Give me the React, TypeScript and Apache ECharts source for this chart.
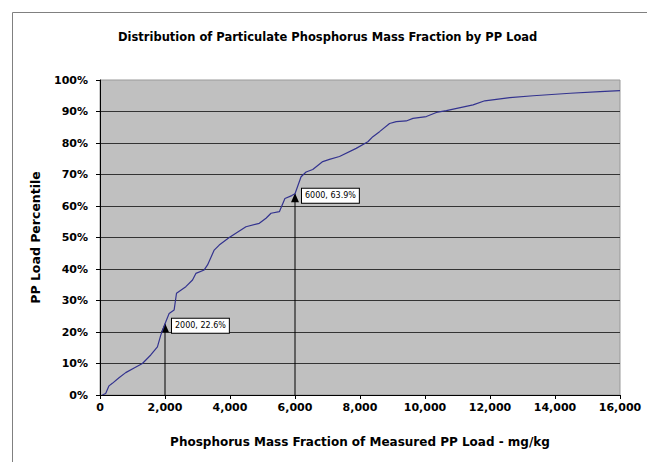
import React, { useEffect, useRef } from "react";
import * as echarts from "echarts";

// Phosphorus mass fraction (mg/kg) vs cumulative percentile of PP load
const loadX = [72, 175, 277, 380, 585, 791, 1050, 1305, 1562, 1767, 1870, 2000, 2127, 2281, 2354, 2641, 2847, 2950, 3206, 3309, 3514, 3668, 3977, 4491, 4902, 5108, 5262, 5519, 5690, 5900, 6000, 6187, 6341, 6546, 6854, 7060, 7368, 7882, 8242, 8396, 8602, 8910, 9116, 9424, 9630, 10041, 10349, 10657, 11479, 11839, 12610, 13329, 14470, 15383, 16000];
const percentile = [0, 0.5, 2.9, 3.7, 5.5, 7.1, 8.6, 10, 12.7, 15.3, 19, 22.6, 25.9, 27, 32.3, 34.4, 36.5, 38.6, 39.7, 41.3, 46, 47.6, 50, 53.4, 54.5, 56.1, 57.7, 58.2, 62.4, 63.3, 63.9, 69.3, 70.8, 71.6, 74.1, 74.8, 75.7, 78.3, 80.4, 82, 83.6, 86.2, 86.8, 87, 87.8, 88.4, 89.7, 90.3, 92.1, 93.4, 94.4, 95, 95.8, 96.3, 96.6];

const markerX = [2000, 6000];
const markerY = [22.6, 63.9];
const markerLabels = ["2000, 22.6%", "6000, 63.9%"];

const FONT = "DejaVu Sans";

export default function App() {
  const ref = useRef<HTMLDivElement>(null);
  useEffect(() => {
    document.body.style.margin = "0";
    const chart = echarts.init(ref.current!, null, { renderer: "svg" });
    const curve = loadX.map((x, i) => [x, percentile[i]]);
    const markerSeries = markerX.map((mx, i) => ({
      type: "line",
      silent: true,
      symbol: "none",
      showSymbol: true,
      z: 1,
      lineStyle: { color: "#000", width: 1 },
      itemStyle: { color: "#000" },
      data: [
        { value: [mx, 0], symbol: "none" },
        {
          value: [mx, markerY[i]],
          symbol: "triangle",
          symbolSize: [8, 9],
          symbolOffset: [0, 4],
          label: {
            show: true,
            position: "right",
            distance: 3,
            offset: [0, -2],
            formatter: markerLabels[i],
            fontFamily: FONT,
            fontSize: 8,
            lineHeight: 10,
            color: "#000",
            backgroundColor: "#fff",
            borderColor: "#000",
            borderWidth: 1,
            padding: [2, 3, 2, 3],
          },
        },
      ],
    }));
    chart.setOption({
      animation: false,
      title: {
        text: "Distribution of Particulate Phosphorus Mass Fraction by PP Load",
        left: 113,
        top: 26,
        textStyle: { fontFamily: FONT, fontSize: 11.5, fontWeight: "bold", color: "#000" },
      },
      graphic: [
        {
          type: "rect",
          shape: { x: 12.5, y: 12.5, width: 700, height: 500 },
          style: { fill: "none", stroke: "#808080", lineWidth: 1 },
          silent: true,
        },
      ],
      grid: {
        left: 100,
        right: 27,
        top: 80,
        bottom: 67,
        show: true,
        backgroundColor: "#c0c0c0",
        borderColor: "#999",
        borderWidth: 1,
      },
      xAxis: {
        type: "value",
        min: 0,
        max: 16000,
        interval: 2000,
        name: "Phosphorus Mass Fraction of Measured PP Load - mg/kg",
        nameLocation: "middle",
        nameGap: 41,
        nameTextStyle: { fontFamily: FONT, fontSize: 12, fontWeight: "bold", color: "#000" },
        axisLine: { show: true, lineStyle: { color: "#000", width: 1 } },
        axisTick: { show: true, length: 4, lineStyle: { color: "#000" } },
        axisLabel: {
          margin: 7,
          fontFamily: FONT,
          fontSize: 11,
          fontWeight: "bold",
          color: "#000",
          formatter: (v: number) => v.toLocaleString("en-US"),
        },
        splitLine: { show: false },
      },
      yAxis: {
        type: "value",
        min: 0,
        max: 100,
        interval: 10,
        name: "PP Load Percentile",
        nameLocation: "middle",
        nameGap: 58,
        nameTextStyle: { fontFamily: FONT, fontSize: 12.5, fontWeight: "bold", color: "#000" },
        axisLine: { show: true, lineStyle: { color: "#000", width: 1 } },
        axisTick: { show: true, length: 4, lineStyle: { color: "#000" } },
        axisLabel: {
          margin: 12,
          fontFamily: FONT,
          fontSize: 11,
          fontWeight: "bold",
          color: "#000",
          formatter: "{value}%",
        },
        splitLine: { show: true, showMaxLine: false, lineStyle: { color: "#333", width: 1 } },
      },
      series: [
        ...markerSeries,
        {
          type: "line",
          data: curve,
          showSymbol: false,
          symbol: "none",
          silent: true,
          z: 3,
          lineStyle: { color: "#33338f", width: 1.2 },
        },
      ],
    });
    return () => chart.dispose();
  }, []);
  return <div ref={ref} style={{ width: 647, height: 462 }} />;
}
